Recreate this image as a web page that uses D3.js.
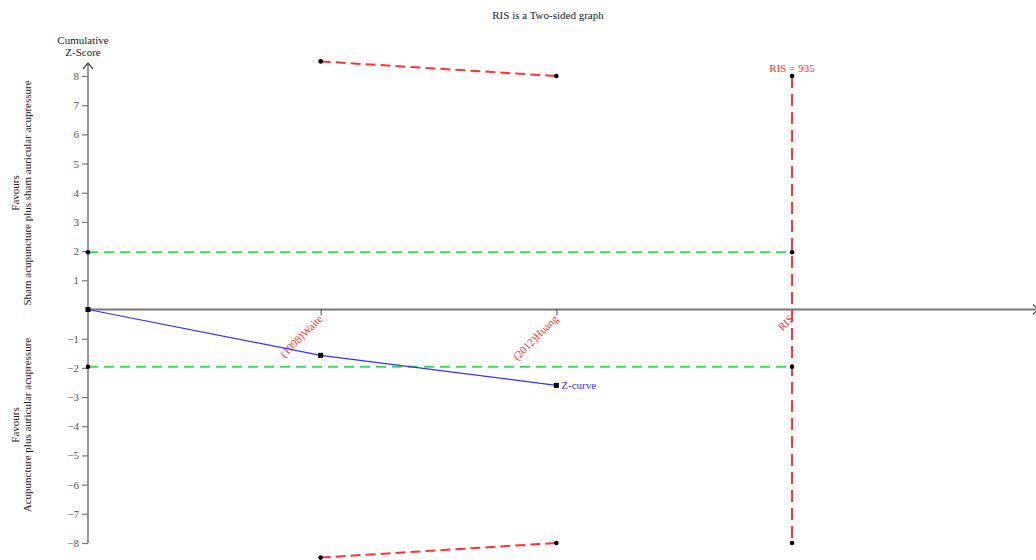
<!DOCTYPE html>
<html>
<head>
<meta charset="utf-8">
<script src="https://cdn.jsdelivr.net/npm/d3@7"></script>
<style>
  html, body { margin: 0; padding: 0; background: #fff; }
  svg text { font-family: "Liberation Serif", "DejaVu Serif", serif; }
</style>
</head>
<body>
<svg id="chart" width="1036" height="560"></svg>
<script>
// Trial sequential analysis: cumulative Z-curve against monitoring boundaries
const studyLabels = ["(1998)Waite", "(2012)Huang"];
const studyN = [309, 622];              // cumulative number of patients
const zCurveN = [0, 309, 622];
const zCurveValues = [0, -1.57, -2.6];
const upperBoundary = [8.5, 8.0];       // monitoring boundary at each study
const lowerBoundary = [-8.5, -8.0];
const risN = 935;
const risLabel = "RIS = 935";
const conventionalZ = 1.96;
const yTicks = [-8, -7, -6, -5, -4, -3, -2, -1, 1, 2, 3, 4, 5, 6, 7, 8];
const axisMaxN = 1259;

const svg = d3.select("#chart");
const x = d3.scaleLinear().domain([0, axisMaxN]).range([88, 1036]);
const y = d3.scaleLinear().domain([-8, 8]).range([543, 76]);

const RED = "#ff3333", GREEN = "#33dd55", BLUE = "#3333ff", AXIS = "#777";

// Title
svg.append("text").attr("x", 548).attr("y", 19).attr("text-anchor", "middle")
  .attr("font-size", 11).attr("fill", "#222").text("RIS is a Two-sided graph");

// Y axis label
svg.append("text").attr("x", 83).attr("y", 44).attr("text-anchor", "middle")
  .attr("font-size", 11).attr("fill", "#222").text("Cumulative");
svg.append("text").attr("x", 83).attr("y", 56).attr("text-anchor", "middle")
  .attr("font-size", 11).attr("fill", "#222").text("Z-Score");

// Side labels
function sideLabel(cy, lines) {
  const g = svg.append("g").attr("transform", `translate(0,${cy}) rotate(-90)`);
  lines.forEach((t, i) => {
    g.append("text").attr("x", 0).attr("y", 19 + i * 12).attr("text-anchor", "middle")
      .attr("font-size", 11).attr("fill", "#222").text(t);
  });
}
sideLabel(193, ["Favours", "Sham acupuncture plus sham auricular acupressure"]);
sideLabel(425, ["Favours", "Acupuncture plus auricular acupressure"]);

// Y axis
const yAxis = d3.axisLeft(y).tickValues(yTicks).tickSize(6).tickPadding(3)
  .tickFormat(d => d < 0 ? "\u2212" + Math.abs(d) : d);
const gy = svg.append("g").attr("transform", `translate(${x(0)},0)`).call(yAxis);
gy.select(".domain").remove();
gy.selectAll(".tick line").attr("stroke", AXIS).attr("stroke-width", 1.2);
gy.selectAll(".tick text").attr("font-size", 11).attr("fill", "#555")
  .attr("font-family", "Liberation Serif, serif");
svg.append("line").attr("x1", x(0)).attr("x2", x(0)).attr("y1", 63).attr("y2", y(-8))
  .attr("stroke", AXIS).attr("stroke-width", 1.5);
svg.append("path").attr("d", `M${x(0) - 5},${69} L${x(0)},${63} L${x(0) + 5},${69}`)
  .attr("fill", "none").attr("stroke", "#444").attr("stroke-width", 1.2);

// X axis
svg.append("line").attr("x1", x(0)).attr("x2", 1036).attr("y1", y(0)).attr("y2", y(0))
  .attr("stroke", AXIS).attr("stroke-width", 2);
svg.append("path").attr("d", `M${1033},${y(0) - 5} L${1038},${y(0)} L${1033},${y(0) + 5}`)
  .attr("fill", "none").attr("stroke", "#444").attr("stroke-width", 1.2);

const xAxis = d3.axisBottom(x).tickValues(studyN.concat([risN])).tickSize(6)
  .tickFormat((d, i) => i < studyLabels.length ? studyLabels[i] : "RIS");
const gx = svg.append("g").attr("transform", `translate(0,${y(0)})`).call(xAxis);
gx.select(".domain").remove();
gx.selectAll(".tick line").attr("stroke", "#444").attr("stroke-width", 1);
gx.selectAll(".tick text").attr("font-size", 11).attr("fill", RED)
  .attr("text-anchor", "end").attr("dy", null).attr("y", 0)
  .attr("transform", "translate(2,10) rotate(-45)");

// Conventional boundaries (±1.96)
[conventionalZ, -conventionalZ].forEach(z => {
  svg.append("line").attr("x1", x(0)).attr("x2", x(risN)).attr("y1", y(z)).attr("y2", y(z))
    .attr("stroke", GREEN).attr("stroke-width", 2).attr("stroke-dasharray", "10,6");
});

// Required information size line
svg.append("line").attr("x1", x(risN)).attr("x2", x(risN)).attr("y1", y(8)).attr("y2", y(-8))
  .attr("stroke", RED).attr("stroke-width", 2).attr("stroke-dasharray", "12,6");
svg.append("text").attr("x", x(risN)).attr("y", 72).attr("text-anchor", "middle")
  .attr("font-size", 11).attr("fill", RED).text(risLabel);

// Monitoring boundaries
const line = d3.line().x(d => x(d[0])).y(d => y(d[1]));
[upperBoundary, lowerBoundary].forEach(b => {
  const pts = studyN.map((n, i) => [n, b[i]]);
  svg.append("path").attr("d", line(pts)).attr("fill", "none")
    .attr("stroke", RED).attr("stroke-width", 2).attr("stroke-dasharray", "10,5");
  svg.selectAll(null).data(pts).enter().append("circle")
    .attr("cx", d => x(d[0])).attr("cy", d => y(d[1])).attr("r", 2.3).attr("fill", "#000");
});

// Boundary endpoint markers
[[0, conventionalZ], [0, -conventionalZ], [risN, conventionalZ], [risN, -conventionalZ],
 [risN, 8], [risN, -8]].forEach(d => {
  svg.append("circle").attr("cx", x(d[0])).attr("cy", y(d[1])).attr("r", 2.3).attr("fill", "#000");
});

// Z-curve
const zPts = zCurveN.map((n, i) => [n, zCurveValues[i]]);
svg.append("path").attr("d", line(zPts)).attr("fill", "none")
  .attr("stroke", BLUE).attr("stroke-width", 1.2);
svg.selectAll(null).data(zPts).enter().append("rect")
  .attr("x", d => x(d[0]) - 2.5).attr("y", d => y(d[1]) - 2.5)
  .attr("width", 5).attr("height", 5).attr("fill", "#000");
const last = zPts[zPts.length - 1];
svg.append("text").attr("x", x(last[0]) + 5).attr("y", y(last[1]) + 4)
  .attr("font-size", 11).attr("fill", BLUE).text("Z-curve");
</script>
</body>
</html>
